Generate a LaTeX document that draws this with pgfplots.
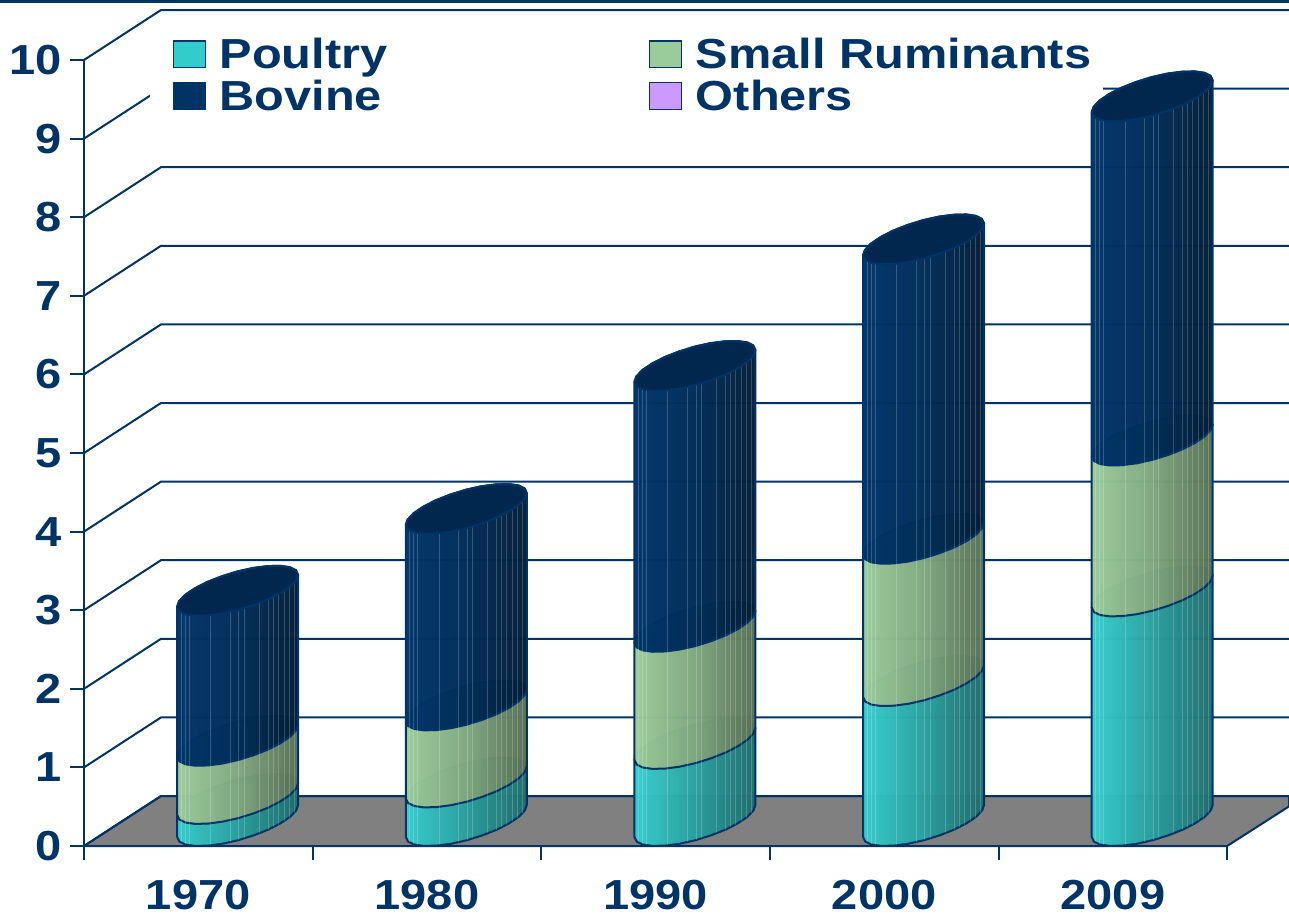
\documentclass[border=0pt]{standalone}
\usepackage{fontspec}
\usepackage{xcolor}
\usepackage{pgfplots}
\usepackage{pgfplotstable}
\pgfplotsset{compat=1.18}
\setmainfont{Liberation Sans}
\newfontfamily\tickfont[FakeStretch=1.12]{Liberation Sans}
\newfontfamily\legfont[FakeStretch=1.16]{Liberation Sans}
\definecolor{navy}{HTML}{003366}
\definecolor{navytop}{HTML}{01274E}
\definecolor{floorgray}{HTML}{808080}
\definecolor{poultry}{HTML}{33CCCC}
\definecolor{tealA}{HTML}{36CECE}\definecolor{tealB}{HTML}{2A9F9F}\definecolor{tealC}{HTML}{1F6C6C}
\definecolor{greenA}{HTML}{9ACB9A}\definecolor{greenB}{HTML}{7FA77F}\definecolor{greenC}{HTML}{566F55}
\definecolor{navyA}{HTML}{00346A}\definecolor{navyB}{HTML}{002C58}\definecolor{navyC}{HTML}{021E38}
\definecolor{others}{HTML}{CC99FF}
\pgfdeclarehorizontalshading{tealcyl}{100bp}{color(0bp)=(tealA); color(25bp)=(tealA); color(50bp)=(tealB); color(75bp)=(tealC); color(100bp)=(tealC)}
\pgfdeclarehorizontalshading{greencyl}{100bp}{color(0bp)=(greenA); color(25bp)=(greenA); color(50bp)=(greenB); color(75bp)=(greenC); color(100bp)=(greenC)}
\pgfdeclarehorizontalshading{navycyl}{100bp}{color(0bp)=(navyA); color(25bp)=(navyA); color(50bp)=(navyB); color(75bp)=(navyC); color(100bp)=(navyC)}

% outline of one cylinder slice: h=0 front arc at lower value, h=1 back arc at upper value
\pgfplotstableread{
u v h
-.2645 .1157 0
-.2549 .0572 0
-.2282 .0190 0
-.1854 .0012 0
-.1303 .0050 0
-.0665 .0292 0
.0022 .0737 0
.0708 .1361 0
.1342 .2086 0
.1885 .2900 0
.2304 .3727 0
.2562 .4529 0
.2645 .5203 0
.2645 .5203 1
.2549 .5788 1
.2282 .6170 1
.1854 .6348 1
.1303 .6310 1
.0665 .6068 1
-.0022 .5623 1
-.0708 .4999 1
-.1342 .4274 1
-.1885 .3460 1
-.2304 .2633 1
-.2562 .1831 1
-.2645 .1157 1
-.2645 .1157 0
}\cylshape

% pale facet lines on the cylinder front
\pgfplotstableread{
u v
-.2470 .0460
-.2296 .0204
-.2121 .0127
-.1181 .0102
-.0328 .0509
.0052 .0763
.0284 .0980
.0940 .1628
.1334 .2074
.1552 .2405
.1771 .2735
.2033 .3193
.2252 .3626
.2470 .4249
}\cylfacets

\newcommand{\cylpart}[4]{% x, low, high, shading
  \addplot[shade,shading=#4,draw=navy,line width=1.5pt,fill opacity=.98,forget plot]
    table[x expr=\thisrow{u}+#1+0.172,y expr=\thisrow{v}+#2+\thisrow{h}*(#3-#2)]{\cylshape};
}
\newcommand{\cyl}[4]{% x, poultry top, ruminants top, bovine top
  \cylpart{#1}{0}{#2}{tealcyl}
  \cylpart{#1}{#2}{#3}{greencyl}
  \cylpart{#1}{#3}{#4}{navycyl}
  \addplot[white,opacity=.2,line width=.7pt,quiver={u=0,v=#4},forget plot]
    table[x expr=\thisrow{u}+#1+0.172,y expr=\thisrow{v}]{\cylfacets};
  \addplot[fill=navytop,draw=navy,line width=1.5pt,forget plot]
    table[x expr=\thisrow{u}+#1+0.172,y expr=\thisrow{v}+#4]{\cylshape};
}

\begin{document}
\begin{tikzpicture}
\useasboundingbox (-63pt,-51.75pt) rectangle (903.75pt,634.5pt);
\begin{axis}[
    at={(0,0)}, anchor=south west,
    scale only axis,
    width=903.75pt, height=634.5pt,
    xmin=-0.5, xmax=4.7704,
    ymin=0, ymax=10.7634,
    clip=false,
    axis x line*=bottom, axis y line*=left,
    axis line style={draw=none},
    xtick={-0.5,0.5,1.5,2.5,3.5,4.5},
    x tick label as interval,
    xticklabels={1970,1980,1990,2000,2009},
    ytick={0,1,...,10},
    tick align=outside,
    major tick length=10.5pt,
    tick style={draw=navy,line width=1.5pt},
    /pgf/number format/assume math mode=true,
    tick label style={font=\tickfont\fontsize{31.5}{36}\bfseries\selectfont,text=navy},
    yticklabel style={inner xsep=2pt,xshift=-4pt},
    xticklabel style={inner ysep=0pt,yshift=-15pt},
    legend columns=2,
    legend cell align=left,
    legend style={at={(axis cs:-0.2138,10.385)},anchor=north west,fill=none,draw=none,
      inner xsep=17.25pt,inner ysep=6pt,
      nodes={inner xsep=0pt,inner ysep=0pt,text=navy,font=\legfont\fontsize{31.5}{31}\bfseries\selectfont},
      row sep=7pt,column sep=0pt},
    legend image code/.code={
      \draw[#1,line width=1pt] (0pt,-10pt) rectangle (24pt,10pt);
      \path (34.5pt,0pt);
    },
]
\addlegendimage{fill=poultry,draw=navy}
\addlegendimage{fill=greenA,draw=navy}
\addlegendimage{fill=navy,draw=navy}
\addlegendimage{fill=others,draw=navy}
\addlegendentry{\makebox[322pt][l]{Poultry}}
\addlegendentry{\makebox[288pt][l]{Small Ruminants}}
\addlegendentry{\makebox[322pt][l]{Bovine}}
\addlegendentry{\makebox[288pt][l]{Others}}

% floor
\addplot[fill=floorgray,draw=navy,line width=1.5pt,forget plot] coordinates {
  (-0.5,0)(-0.1633,0.636)(4.7704,0.636)(4.7704,0.504)(4.5,0)(-0.5,0)};
% walls
\pgfplotsinvokeforeach{0,...,10}{
  \addplot[navy,line width=1.5pt,forget plot] coordinates {(-0.5,#1)(-0.1633,#1.636)(4.7704,#1.636)};
}
\addplot[navy,line width=1.5pt,forget plot] coordinates {(-0.5,0)(-0.5,10)};
\addplot[navy,line width=2.5pt,forget plot] coordinates {(-0.8658,10.75)(4.7704,10.75)};
% white box behind the legend hides the wall lines there
\addplot[fill=white,draw=none,forget plot] coordinates {
  (-0.2099,10.2)(3.9580,10.2)(3.9580,9.25)(-0.2099,9.25)};

\cyl{0}{0.28}{1.02}{2.93}
\cyl{1}{0.49}{1.47}{3.97}
\cyl{2}{0.98}{2.47}{5.79}
\cyl{3}{1.78}{3.59}{7.40}
\cyl{4}{2.92}{4.84}{9.22}
\end{axis}
\end{tikzpicture}
\end{document}
